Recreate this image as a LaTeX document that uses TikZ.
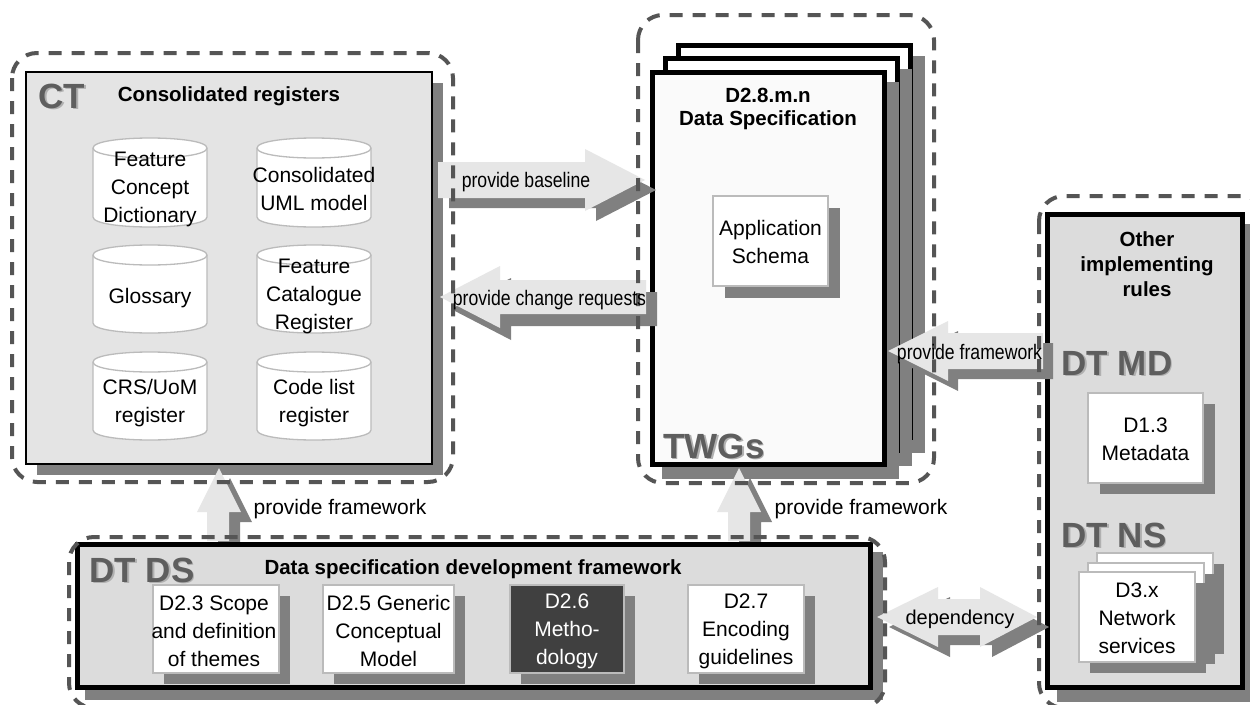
\documentclass[tikz,border=0pt]{standalone}
\usepackage{fontspec}
\setmainfont{Liberation Sans}
\newfontfamily\narrowfont[FakeStretch=0.84]{Liberation Sans}
\definecolor{dashgray}{HTML}{555555}
\definecolor{shadowgray}{HTML}{808080}
\definecolor{ctfill}{HTML}{E4E4E4}
\definecolor{boxfill}{HTML}{DCDCDC}
\definecolor{arrowfill}{HTML}{E6E6E6}
\definecolor{lightborder}{HTML}{BBBBBB}
\definecolor{darkbox}{HTML}{404040}
\definecolor{biggray}{HTML}{5E5E5E}
\definecolor{bigshadow}{HTML}{B0B0B0}
\definecolor{paperfill}{HTML}{FAFAFA}
\tikzset{
  dashbox/.style={draw=dashgray, line width=4pt, dash pattern=on 13pt off 10pt, rounded corners=25pt},
  thickbox/.style={draw=black, line width=5pt},
  docbox/.style={draw=lightborder, line width=2pt, fill=white},
  reg/.style={font=\fontsize{21}{28}\selectfont, align=center, inner sep=0pt},
  bld/.style={font=\bfseries\fontsize{20.5}{24}\selectfont, align=center, inner sep=0pt},
  big/.style={font=\bfseries\fontsize{35}{40}\selectfont, inner sep=0pt, anchor=base, text=biggray},
  bigsh/.style={big, text=bigshadow},
  narrow/.style={font=\narrowfont\fontsize{21}{24}\selectfont, inner sep=0pt},
}
% cylinder: centre x, top y, bottom y (y grows downward)
\newcommand{\dbcyl}[3]{%
  \filldraw[fill=white, draw=lightborder, line width=1.3pt]
    (#1-57,#2+10) -- (#1-57,#3-10)
    .. controls (#1-57,#3+3.33) and (#1+57,#3+3.33) .. (#1+57,#3-10)
    -- (#1+57,#2+10)
    .. controls (#1+57,#2-3.33) and (#1-57,#2-3.33) .. (#1-57,#2+10) -- cycle;
  \draw[draw=lightborder, line width=1.3pt]
    (#1-57,#2+10) .. controls (#1-57,#2+23.33) and (#1+57,#2+23.33) .. (#1+57,#2+10);
}
\begin{document}
\begin{tikzpicture}[x=1pt,y=-1pt]
\useasboundingbox (0,0) rectangle (1250,704);
\fill[white] (0,0) rectangle (1250,704);

% ---------- CT consolidated registers ----------
\fill[shadowgray] (37,83) rectangle (443,475);
\filldraw[fill=ctfill, draw=black, line width=1.2pt] (26,72) rectangle (432,464);
\dbcyl{150}{138}{227}
\dbcyl{314}{138}{227}
\dbcyl{150}{245}{333}
\dbcyl{314}{245}{333}
\dbcyl{150}{352}{440}
\dbcyl{314}{352}{440}

% ---------- TWGs stack ----------
\fill[shadowgray] (688,56) rectangle (925,453);
\filldraw[fill=white, thickbox] (678.5,45.5) rectangle (910.5,437.5);
\fill[shadowgray] (675,69) rectangle (912,466);
\filldraw[fill=white, thickbox] (665.5,58.5) rectangle (897.5,450.5);
\fill[shadowgray] (662,82) rectangle (899,479);
\filldraw[fill=paperfill, thickbox] (652.5,72.5) rectangle (884.5,464.5);
\fill[shadowgray] (725,208) rectangle (840,298);
\filldraw[docbox] (713,196) rectangle (828,286);

% ---------- Other implementing rules ----------
\fill[shadowgray] (1057,224) rectangle (1257,702);
\filldraw[fill=boxfill, thickbox] (1047.5,214.5) rectangle (1242.5,687.5);
\fill[shadowgray] (1100,404) rectangle (1215,494);
\filldraw[docbox] (1088,393) rectangle (1203,483);
\fill[shadowgray] (1108,564) rectangle (1224,654);
\filldraw[docbox] (1097,553) rectangle (1213,643);
\fill[shadowgray] (1099,574) rectangle (1215,664);
\filldraw[docbox] (1088,563) rectangle (1204,653);
\fill[shadowgray] (1090,583) rectangle (1206,673);
\filldraw[docbox] (1079,572) rectangle (1195,662);

% ---------- vertical arrows (provide framework) ----------
\foreach \dx/\dy/\c in {11/10/shadowgray, 0/0/arrowfill}{
  \fill[\c, shift={(\dx,\dy)}] (219,468) -- (241,512) -- (229,512) -- (229,541)
     -- (207,541) -- (207,512) -- (197,512) -- cycle;
  \fill[\c, shift={(\dx,\dy)}] (739,468) -- (761,512) -- (750,512) -- (750,541)
     -- (728,541) -- (728,512) -- (717,512) -- cycle;
}

% ---------- DT DS ----------
\fill[shadowgray] (85,552) rectangle (883,700);
\filldraw[fill=boxfill, thickbox] (77.5,544.5) rectangle (870.5,687.5);
\fill[shadowgray] (164,596) rectangle (290,684);
\filldraw[docbox] (153,585) rectangle (279,673);
\fill[shadowgray] (334,596) rectangle (465,684);
\filldraw[docbox] (323,585) rectangle (454,673);
\fill[shadowgray] (521,596) rectangle (635,684);
\filldraw[docbox, fill=darkbox] (510,585) rectangle (624,673);
\fill[shadowgray] (699,596) rectangle (815,684);
\filldraw[docbox] (688,585) rectangle (804,673);

% ---------- horizontal block arrows ----------
\foreach \dx/\dy/\c in {11/10/shadowgray, 0/0/arrowfill}{
  \fill[\c, shift={(\dx,\dy)}] (438,162) -- (585,162) -- (585,149) -- (645,180)
     -- (585,211) -- (585,198) -- (438,198) -- cycle;
}
\foreach \dx/\dy/\c in {11/12/shadowgray, 0/0/arrowfill}{
  \fill[\c, shift={(\dx,\dy)}] (646,280) -- (500,280) -- (500,266) -- (440,297)
     -- (500,328) -- (500,314) -- (646,314) -- cycle;
}
\foreach \dx/\dy/\c in {10/10/shadowgray, 0/0/arrowfill}{
  \fill[\c, shift={(\dx,\dy)}] (1043,333) -- (948,333) -- (948,321) -- (888,351)
     -- (948,381) -- (948,369) -- (1043,369) -- cycle;
}
\foreach \dx/\dy/\c in {12/10/shadowgray, 0/0/arrowfill}{
  \fill[\c, shift={(\dx,\dy)}] (877,617) -- (938,587) -- (938,599) -- (980,599)
     -- (980,587) -- (1037,617) -- (980,647) -- (980,635) -- (938,635)
     -- (938,647) -- cycle;
}

% ---------- dashed group outlines ----------
\draw[dashbox] (12,53) rectangle (453,482);
\draw[dashbox] (638,15) rectangle (934,483);
\draw[dashbox] (1039,196) rectangle (1266,708);
\draw[dashbox] (69,537) rectangle (885,708);

% ---------- texts ----------
\node[bigsh] (ctS) at (63.5,109.5) {CT};
\node[big] (ct) at (62,108) {CT};
\node[bld, anchor=base] (ctT) at (229,101) {Consolidated registers};
\node[reg] (c1) at (150,189) {Feature\\Concept\\Dictionary};
\node[reg] (c2) at (314,189) {Consolidated\\UML model};
\node[reg] (c3) at (150,298) {Glossary};
\node[reg] (c4) at (314,296) {Feature\\Catalogue\\Register};
\node[reg] (c5) at (150,403) {CRS/UoM\\register};
\node[reg] (c6) at (314,403) {Code list\\register};

\node[bld, font=\bfseries\fontsize{20.5}{23}\selectfont] (ds) at (768,109) {D2.8.m.n\\Data Specification};
\node[reg] (as) at (770.5,242) {Application\\Schema};
\node[bigsh] (twgsS) at (715.5,459.5) {TWGs};
\node[big] (twgs) at (714,458) {TWGs};

\node[bld, font=\bfseries\fontsize{20.5}{25}\selectfont] (oir) at (1147,264) {Other\\implementing\\rules};
\node[bigsh] (dtmdS) at (1118.5,376.5) {DT MD};
\node[big] (dtmd) at (1117,375) {DT MD};
\node[reg] (d13) at (1145.5,439) {D1.3\\Metadata};
\node[bigsh] (dtnsS) at (1115.5,548.5) {DT NS};
\node[big] (dtns) at (1114,547) {DT NS};
\node[reg] (d3x) at (1137,618) {D3.x\\Network\\services};

\node[bigsh] (dtdsS) at (143.5,583.5) {DT DS};
\node[big] (dtds) at (142,582) {DT DS};
\node[bld, anchor=base] (dsdf) at (473,574) {Data specification development framework};
\node[reg] (d23) at (214,631) {D2.3 Scope\\and definition\\of themes};
\node[reg] (d25) at (388.5,631) {D2.5 Generic\\Conceptual\\Model};
\node[reg, text=white] (d26) at (567,631) {D2.6\\Metho-\\dology};
\node[reg] (d27) at (746,631) {D2.7\\Encoding\\guidelines};

\node[narrow] (lblA) at (526,182) {provide baseline};
\node[narrow] (lblB) at (549.5,300) {provide change requests};
\node[narrow] (lblC) at (969.5,354) {provide framework};
\node[reg, font=\fontsize{20}{24}\selectfont] (lblD) at (960,619) {dependency};
\node[reg] (pf1) at (340,509) {provide framework};
\node[reg] (pf2) at (861,509) {provide framework};
\end{tikzpicture}
\end{document}
